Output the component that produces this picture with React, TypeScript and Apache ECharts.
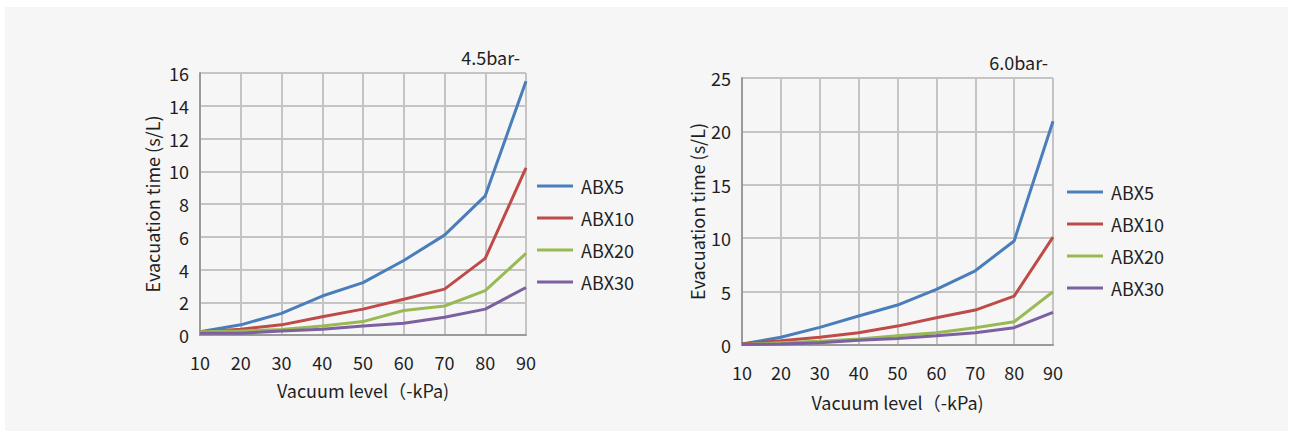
import React, { useEffect, useRef } from "react";
import * as echarts from "echarts";

const categories = ["10", "20", "30", "40", "50", "60", "70", "80", "90"];
const seriesNames = ["ABX5", "ABX10", "ABX20", "ABX30"];
const colors = ["#4a7ebb", "#be4b48", "#98b954", "#7d60a0"];

// 4.5 bar
const abx5_45 = [0.2, 0.62, 1.32, 2.38, 3.2, 4.55, 6.1, 8.5, 15.5];
const abx10_45 = [0.2, 0.35, 0.62, 1.12, 1.58, 2.18, 2.8, 4.68, 10.2];
const abx20_45 = [0.2, 0.25, 0.33, 0.55, 0.82, 1.5, 1.77, 2.71, 4.98];
const abx30_45 = [0.1, 0.1, 0.25, 0.35, 0.55, 0.72, 1.08, 1.58, 2.9];

// 6.0 bar
const abx5_60 = [0.1, 0.72, 1.65, 2.71, 3.74, 5.2, 6.95, 9.74, 20.95];
const abx10_60 = [0.1, 0.4, 0.72, 1.15, 1.77, 2.55, 3.27, 4.58, 10.1];
const abx20_60 = [0.05, 0.2, 0.35, 0.56, 0.87, 1.15, 1.62, 2.18, 4.98];
const abx30_60 = [0.05, 0.1, 0.2, 0.45, 0.6, 0.87, 1.15, 1.62, 3.05];

const yTicksLeft = { min: 0, max: 16, interval: 2 };
const yTicksRight = { min: 0, max: 25, interval: 5 };

const FONT = "Noto Sans CJK SC";
const TEXT = "#1f1f1f";
const GRID_LINE = "#c4c4c4";
const FS = 18;

export default function App() {
  const ref = useRef<HTMLDivElement>(null);
  useEffect(() => {
    document.body.style.margin = "0";
    const chart = echarts.init(ref.current!, undefined, { renderer: "svg" });
    const xAxisBase = (gridIndex: number, nameGap: number) => ({
      type: "category",
      gridIndex,
      data: categories,
      boundaryGap: false,
      name: "Vacuum level（-kPa)",
      nameLocation: "middle",
      nameGap,
      nameTextStyle: { fontFamily: FONT, fontSize: FS, color: TEXT },
      axisLine: { show: true, lineStyle: { color: "#9a9a9a", width: 2 } },
      axisTick: { show: false },
      axisLabel: { fontFamily: FONT, fontSize: FS, color: TEXT, margin: 18 },
      splitLine: { show: true, lineStyle: { color: GRID_LINE, width: 2 } },
    });
    const yAxisBase = (gridIndex: number, t: any, nameGap: number) => ({
      type: "value",
      gridIndex,
      min: t.min,
      max: t.max,
      interval: t.interval,
      name: "Evacuation time (s/L)",
      nameLocation: "middle",
      nameGap,
      nameTextStyle: { fontFamily: FONT, fontSize: FS, color: TEXT },
      axisLine: { show: true, lineStyle: { color: "#9a9a9a", width: 2 } },
      axisTick: { show: false },
      axisLabel: { fontFamily: FONT, fontSize: FS, color: TEXT, margin: 11 },
      splitLine: { show: true, lineStyle: { color: GRID_LINE, width: 2 } },
    });
    const left = [abx5_45, abx10_45, abx20_45, abx30_45];
    const right = [abx5_60, abx10_60, abx20_60, abx30_60];
    const mk = (data: number[][], idx: number) =>
      data.map((d, i) => ({
        name: seriesNames[i],
        type: "line",
        xAxisIndex: idx,
        yAxisIndex: idx,
        data: d,
        symbol: "none",
        lineStyle: { width: 3, color: colors[i] },
        itemStyle: { color: colors[i] },
      }));
    const legendBase = (leftPos: number, topPos: number) => ({
      orient: "vertical",
      left: leftPos,
      top: topPos,
      icon: "rect",
      itemWidth: 36,
      itemHeight: 3,
      itemGap: 14,
      data: seriesNames,
      textStyle: { fontFamily: FONT, fontSize: FS, color: TEXT, padding: [0, 0, 0, 3] },
    });
    chart.setOption({
      animation: false,
      backgroundColor: "#ffffff",
      graphic: [
        {
          type: "rect",
          shape: { x: 5, y: 7, width: 1283, height: 424 },
          style: { fill: "#f6f6f6" },
          z: -10,
        },
        {
          type: "text",
          x: 520,
          y: 57,
          style: {
            text: "4.5bar-",
            fontFamily: FONT,
            fontSize: FS,
            fill: TEXT,
            align: "right",
            verticalAlign: "middle",
          },
        },
        {
          type: "text",
          x: 1048,
          y: 62,
          style: {
            text: "6.0bar-",
            fontFamily: FONT,
            fontSize: FS,
            fill: TEXT,
            align: "right",
            verticalAlign: "middle",
          },
        },
      ],
      grid: [
        { left: 200, top: 73, width: 326, height: 262 },
        { left: 742, top: 78, width: 311, height: 267 },
      ],
      xAxis: [xAxisBase(0, 46), xAxisBase(1, 48)],
      yAxis: [yAxisBase(0, yTicksLeft, 39), yAxisBase(1, yTicksRight, 36)],
      legend: [legendBase(532, 172), legendBase(1062, 178)],
      series: [...mk(left, 0), ...mk(right, 1)],
    });
    return () => chart.dispose();
  }, []);
  return <div ref={ref} style={{ width: 1290, height: 434 }} />;
}
